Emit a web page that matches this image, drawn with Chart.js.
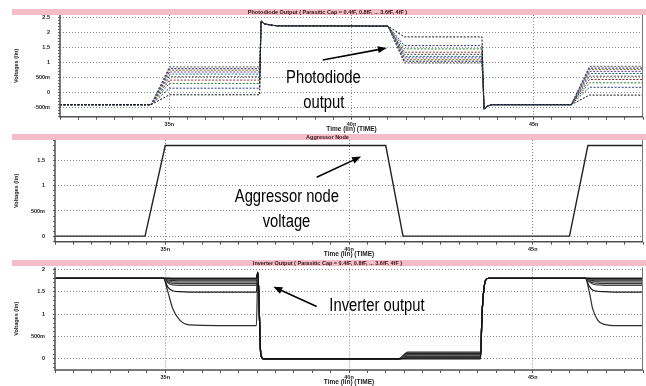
<!DOCTYPE html>
<html>
<head>
<meta charset="utf-8">
<script src="https://cdn.jsdelivr.net/npm/chart.js@4.4.1/dist/chart.umd.min.js"></script>
<style>
  body { margin: 0; background: #fff; }
  #wrap { position: relative; width: 646px; height: 386px; overflow: hidden; }
  canvas { position: absolute; left: 0; }
</style>
</head>
<body>
<div id="wrap">
  <canvas id="pd" width="646" height="133" style="top:0"></canvas>
  <canvas id="agg" width="646" height="133" style="top:125px"></canvas>
  <canvas id="inv" width="646" height="134" style="top:252px"></canvas>
</div>
<script>
// parasitic cap sweep, one trace per value
const capLabels = ['0.4fF', '0.8fF', '1.2fF', '1.6fF', '2fF', '2.4fF', '2.8fF', '3.2fF', '3.6fF', '4fF'];

// photodiode node voltage (V) at the pdTime breakpoints (ns)
const pdTime = [32, 34.5, 35, 37.48, 37.52, 37.6, 37.75, 37.95, 41, 41.45, 43.58, 43.64, 43.72, 43.85, 46.03, 46.53, 48];
const pdValues = [
  [-0.42, -0.42, -0.09, -0.09, 2.37, 2.28, 2.24, 2.21, 2.2, 1.84, 1.84, -0.57, -0.47, -0.42, -0.42, -0.1, -0.1],
  [-0.42, -0.42, 0.13, 0.13, 2.37, 2.28, 2.24, 2.21, 2.2, 1.55, 1.55, -0.57, -0.47, -0.42, -0.42, 0.16, 0.16],
  [-0.42, -0.42, 0.29, 0.29, 2.37, 2.28, 2.24, 2.21, 2.2, 1.44, 1.44, -0.57, -0.47, -0.42, -0.42, 0.31, 0.31],
  [-0.42, -0.42, 0.40, 0.40, 2.37, 2.28, 2.24, 2.21, 2.2, 1.33, 1.33, -0.57, -0.47, -0.42, -0.42, 0.42, 0.42],
  [-0.42, -0.42, 0.51, 0.51, 2.37, 2.28, 2.24, 2.21, 2.2, 1.26, 1.26, -0.57, -0.47, -0.42, -0.42, 0.53, 0.53],
  [-0.42, -0.42, 0.60, 0.60, 2.37, 2.28, 2.24, 2.21, 2.2, 1.19, 1.19, -0.57, -0.47, -0.42, -0.42, 0.62, 0.62],
  [-0.42, -0.42, 0.67, 0.67, 2.37, 2.28, 2.24, 2.21, 2.2, 1.14, 1.14, -0.57, -0.47, -0.42, -0.42, 0.69, 0.69],
  [-0.42, -0.42, 0.73, 0.73, 2.37, 2.28, 2.24, 2.21, 2.2, 1.08, 1.08, -0.57, -0.47, -0.42, -0.42, 0.75, 0.75],
  [-0.42, -0.42, 0.78, 0.78, 2.37, 2.28, 2.24, 2.21, 2.2, 1.03, 1.03, -0.57, -0.47, -0.42, -0.42, 0.80, 0.80],
  [-0.42, -0.42, 0.84, 0.84, 2.37, 2.28, 2.24, 2.21, 2.2, 0.97, 0.97, -0.57, -0.47, -0.42, -0.42, 0.86, 0.86]
];
const pdColors = ['#111111', '#2b3a8c', '#2e7d32', '#8b2d2d', '#444444', '#1f6f8b', '#6a3d9a', '#7a6a1f', '#1b1b6f', '#555555'];

// aggressor node (same for every cap value)
const aggTime = [32, 34.45, 35, 41, 41.47, 46, 46.5, 48];
const aggValues = [0, 0, 1.8, 1.8, 0, 0, 1.8, 1.8];

// inverter output voltage (V) at the invTime breakpoints (ns)
const invTime = [32, 34.95, 35.07, 35.2, 35.39, 35.66, 37.48, 37.52, 37.6, 37.68, 41.35, 41.6, 43.58, 43.62, 43.72, 43.8, 46.43, 46.54, 46.63, 46.77, 46.95, 47.3, 48];
const invValues = [
  [1.8, 1.8, 1.8, 1.8, 1.8, 1.8, 1.8, 1.93, 0.1, 0, 0, 0, 0, 1.0, 1.76, 1.8, 1.8, 1.8, 1.8, 1.8, 1.8, 1.8, 1.8],
  [1.8, 1.8, 1.8, 1.8, 1.8, 1.8, 1.8, 1.93, 0.1, 0, 0, 0.02, 0.02, 1.0, 1.76, 1.8, 1.8, 1.8, 1.8, 1.8, 1.8, 1.8, 1.8],
  [1.8, 1.8, 1.8, 1.79, 1.79, 1.79, 1.79, 1.93, 0.1, 0, 0, 0.03, 0.03, 1.0, 1.76, 1.8, 1.8, 1.8, 1.79, 1.79, 1.79, 1.79, 1.79],
  [1.8, 1.8, 1.78, 1.77, 1.77, 1.77, 1.77, 1.93, 0.1, 0, 0, 0.04, 0.04, 1.0, 1.76, 1.8, 1.8, 1.78, 1.77, 1.77, 1.77, 1.77, 1.77],
  [1.8, 1.8, 1.76, 1.75, 1.74, 1.74, 1.74, 1.93, 0.1, 0, 0, 0.05, 0.05, 1.0, 1.76, 1.8, 1.8, 1.77, 1.75, 1.74, 1.74, 1.74, 1.74],
  [1.8, 1.8, 1.74, 1.72, 1.71, 1.71, 1.71, 1.93, 0.1, 0, 0, 0.06, 0.06, 1.0, 1.76, 1.8, 1.8, 1.76, 1.73, 1.72, 1.71, 1.71, 1.71],
  [1.8, 1.8, 1.72, 1.69, 1.68, 1.68, 1.68, 1.93, 0.1, 0, 0, 0.08, 0.08, 1.0, 1.76, 1.8, 1.8, 1.74, 1.70, 1.69, 1.68, 1.68, 1.68],
  [1.8, 1.8, 1.70, 1.65, 1.64, 1.64, 1.64, 1.93, 0.1, 0, 0, 0.10, 0.10, 1.0, 1.76, 1.8, 1.8, 1.72, 1.67, 1.65, 1.64, 1.64, 1.64],
  [1.8, 1.8, 1.60, 1.52, 1.50, 1.49, 1.49, 1.93, 0.1, 0, 0, 0.12, 0.12, 1.0, 1.76, 1.8, 1.8, 1.62, 1.54, 1.51, 1.50, 1.49, 1.49],
  [1.8, 1.8, 1.50, 1.13, 0.87, 0.76, 0.74, 1.93, 0.1, 0, 0, 0.15, 0.15, 1.0, 1.76, 1.8, 1.8, 1.49, 1.12, 0.86, 0.77, 0.74, 0.74]
];
const invColors = ['#111111', '#2a2a2a', '#3a3a3a', '#555555', '#222222', '#666666', '#333333', '#444444', '#1a1a1a', '#2d2d2d'];

// axis labelling
const timeTicks = [35, 40, 45];
const voltLabels = { '-0.5': '-500m', '0': '0', '0.5': '500m', '1': '1', '1.5': '1.5', '2': '2', '2.5': '2.5' };

const smallFont = { family: '"Liberation Sans", Arial, sans-serif', size: 5.5, weight: 'bold' };

function toPoints(times, values) {
  return values.map((v, i) => ({ x: times[i], y: v }));
}

function isMajorTime(v) {
  return timeTicks.some(t => Math.abs(t - v) < 1e-6);
}

function voltLabel(v) {
  const key = String(Math.round(v * 10) / 10);
  return voltLabels[key] !== undefined ? voltLabels[key] : '';
}

// pink title strip, solid axis lines and right edge of the plot frame
const titleBar = {
  id: 'titleBar',
  beforeDraw(chart) {
    const tb = chart.titleBlock;
    if (!tb) return;
    const ctx = chart.ctx;
    ctx.save();
    ctx.fillStyle = '#f5bdc8';
    ctx.fillRect(tb.left, tb.top, chart.width - tb.left, 6);
    ctx.restore();
  },
  afterDraw(chart) {
    const a = chart.chartArea, ctx = chart.ctx;
    ctx.save();
    ctx.strokeStyle = '#777';
    ctx.lineWidth = 1;
    ctx.beginPath();
    ctx.moveTo(a.right - 0.5, a.top);
    ctx.lineTo(a.right - 0.5, a.bottom);
    ctx.stroke();
    ctx.strokeStyle = '#505050';
    ctx.lineWidth = 1.5;
    ctx.beginPath();
    ctx.moveTo(a.left, a.top);
    ctx.lineTo(a.left, a.bottom);
    ctx.lineTo(a.right, a.bottom);
    ctx.stroke();
    ctx.restore();
  }
};

// callout text and arrows, placed in data units
const notes = {
  id: 'notes',
  afterDraw(chart, args, opts) {
    const { ctx, scales: { x, y } } = chart;
    ctx.save();
    ctx.fillStyle = '#000';
    ctx.strokeStyle = '#000';
    (opts.texts || []).forEach(n => {
      ctx.save();
      ctx.translate(x.getPixelForValue(n.t), y.getPixelForValue(n.v));
      ctx.scale(0.82, 1);
      ctx.font = '18px "Liberation Sans", Arial, sans-serif';
      ctx.textAlign = 'center';
      ctx.textBaseline = 'middle';
      ctx.fillText(n.text, 0, 0);
      ctx.restore();
    });
    (opts.arrows || []).forEach(a => {
      const x0 = x.getPixelForValue(a.from[0]), y0 = y.getPixelForValue(a.from[1]);
      const x1 = x.getPixelForValue(a.to[0]), y1 = y.getPixelForValue(a.to[1]);
      const c = Math.cos(Math.atan2(y1 - y0, x1 - x0));
      const s = Math.sin(Math.atan2(y1 - y0, x1 - x0));
      ctx.lineWidth = 1.6;
      ctx.beginPath();
      ctx.moveTo(x0, y0);
      ctx.lineTo(x1 - 6 * c, y1 - 6 * s);
      ctx.stroke();
      ctx.beginPath();
      ctx.moveTo(x1, y1);
      ctx.lineTo(x1 - 9 * c + 3.5 * s, y1 - 9 * s - 3.5 * c);
      ctx.lineTo(x1 - 9 * c - 3.5 * s, y1 - 9 * s + 3.5 * c);
      ctx.closePath();
      ctx.fill();
    });
    ctx.restore();
  }
};

function panelOptions(p) {
  return {
    responsive: false,
    animation: false,
    devicePixelRatio: 1,
    layout: { padding: { top: p.padTop, left: 12, right: 3, bottom: 0 } },
    elements: { point: { radius: 0 }, line: { borderWidth: 1, tension: 0, fill: false } },
    scales: {
      x: {
        type: 'linear',
        min: 32,
        max: 48,
        afterFit: s => { s.height = p.xHeight; },
        ticks: {
          stepSize: 0.5,
          autoSkip: false,
          maxRotation: 0,
          padding: 1,
          color: '#222',
          font: smallFont,
          callback: v => isMajorTime(v) ? v + 'n' : ''
        },
        grid: {
          color: c => isMajorTime(c.tick.value) ? '#8a8a8a' : 'rgba(0,0,0,0)',
          tickColor: '#555',
          tickLength: 3,
          lineWidth: 1
        },
        border: { display: false, dash: [1, 2] },
        title: {
          display: true,
          text: 'Time (lin) (TIME)',
          color: '#222',
          font: { family: '"Liberation Sans", Arial, sans-serif', size: 6.5, weight: 'bold', lineHeight: 1 },
          padding: { top: 0, bottom: p.xTitlePad }
        }
      },
      y: {
        min: p.yMin,
        max: p.yMax,
        afterFit: s => { s.width = p.yWidth; },
        ticks: {
          stepSize: 0.1,
          autoSkip: false,
          includeBounds: false,
          padding: 8,
          color: '#222',
          font: smallFont,
          callback: voltLabel
        },
        grid: {
          color: c => voltLabel(c.tick.value) !== '' ? '#8a8a8a' : 'rgba(0,0,0,0)',
          tickColor: '#666',
          tickLength: 2,
          lineWidth: 1
        },
        border: { display: false, dash: [1, 2] },
        title: {
          display: true,
          text: 'Voltages (lin)',
          color: '#222',
          font: smallFont,
          padding: { top: 1.5, bottom: 0 }
        }
      }
    },
    plugins: {
      legend: { display: false },
      tooltip: { enabled: false },
      title: {
        display: true,
        text: p.title,
        color: '#331111',
        font: { family: '"Liberation Sans", Arial, sans-serif', size: 5.5, weight: 'bold', lineHeight: '6px' },
        padding: { top: 0, bottom: p.titlePad }
      },
      notes: p.notes
    }
  };
}

new Chart(document.getElementById('pd'), {
  type: 'line',
  data: {
    datasets: pdValues.map((vals, k) => ({
      label: capLabels[k],
      data: toPoints(pdTime, vals),
      borderColor: pdColors[k],
      borderDash: [2, 1.5]
    }))
  },
  options: panelOptions({
    title: 'Photodiode Output ( Parasitic Cap = 0.4fF, 0.8fF, ... 3.6fF, 4fF )',
    padTop: 9, titlePad: 0, xHeight: 16.3, xTitlePad: 0.3, yWidth: 48,
    yMin: -0.82, yMax: 2.57,
    notes: {
      texts: [{ text: 'Photodiode', t: 39.23, v: 0.47 }, { text: 'output', t: 39.24, v: -0.36 }],
      arrows: [{ from: [39.21, 1.07], to: [40.97, 1.47] }]
    }
  }),
  plugins: [titleBar, notes]
});

new Chart(document.getElementById('agg'), {
  type: 'line',
  data: {
    datasets: [{
      label: 'aggressor',
      data: toPoints(aggTime, aggValues),
      borderColor: '#222222',
      borderWidth: 1.4
    }]
  },
  options: panelOptions({
    title: 'Aggressor Node',
    padTop: 9, titlePad: 0, xHeight: 16.3, xTitlePad: 0.3, yWidth: 43,
    yMin: -0.11, yMax: 1.91,
    notes: {
      texts: [{ text: 'Aggressor node', t: 38.31, v: 0.78 }, { text: 'voltage', t: 38.3, v: 0.29 }],
      arrows: [{ from: [39.12, 1.17], to: [40.33, 1.58] }]
    }
  }),
  plugins: [titleBar, notes]
});

new Chart(document.getElementById('inv'), {
  type: 'line',
  data: {
    datasets: invValues.map((vals, k) => ({
      label: capLabels[k],
      data: toPoints(invTime, vals),
      borderColor: invColors[k],
      borderWidth: 1.2,
      cubicInterpolationMode: 'monotone'
    }))
  },
  options: panelOptions({
    title: 'Inverter Output ( Parasitic Cap = 0.4fF, 0.8fF, ... 3.6fF, 4fF )',
    padTop: 8, titlePad: 1.5, xHeight: 16, xTitlePad: 0.8, yWidth: 43,
    yMin: -0.25, yMax: 2.04,
    notes: {
      texts: [{ text: 'Inverter output', t: 40.76, v: 1.17 }],
      arrows: [{ from: [39.12, 1.17], to: [37.94, 1.61] }]
    }
  }),
  plugins: [titleBar, notes]
});
</script>
</body>
</html>
